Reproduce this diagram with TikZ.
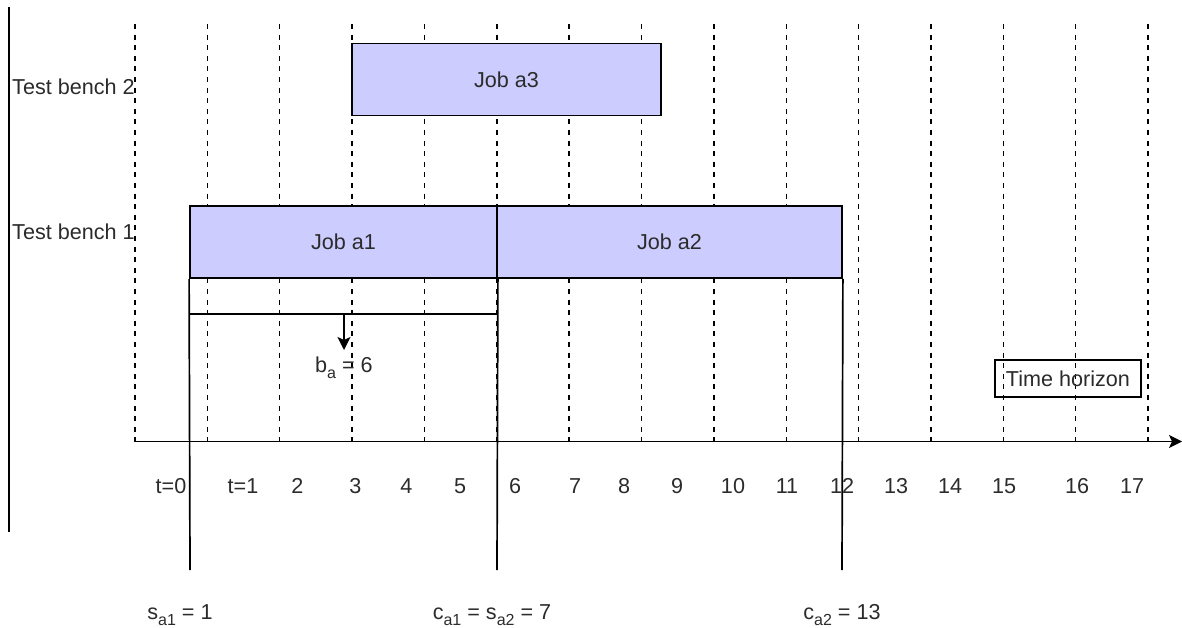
\documentclass[tikz,border=0pt]{standalone}
\usepackage{fontspec}
\setmainfont{Liberation Sans}
\usetikzlibrary{arrows.meta}
\definecolor{jobfill}{HTML}{CCCCFF}
\definecolor{ink}{HTML}{2B2B2B}
% lowered, smaller index text (s_a1, c_a2, b_a ...)
\newcommand\lowsub[1]{\raisebox{-0.3em}{\fontsize{16}{16}\selectfont #1}}

\begin{document}
\begin{tikzpicture}[x=1pt,y=-1pt,
  every node/.style={font=\fontsize{21.6}{26}\selectfont, text=ink, inner sep=0pt},
  job/.style={draw=black, fill=jobfill, line width=1.8pt, minimum height=72pt},
  gridline/.style={draw=black, line width=1.5pt, dash pattern=on 5pt off 5.6pt},
  plainline/.style={draw=black, line width=1.7pt},
  lbl/.style={anchor=base},
  tip/.style={-{Stealth[length=13pt,width=13pt,inset=3pt]}}
]
\useasboundingbox (0,0) rectangle (1182,628);

% time grid
\foreach \k in {0,...,14}
  \draw[gridline] (135+72.36*\k,24) -- (135+72.36*\k,441.5);

% left border of the machine column
\coordinate (lt) at (9,7);
\coordinate (lb) at (9,532);
\draw[plainline] (lt) -- (lb);

% machine labels
\node[anchor=base west] (tb2) at (12,95) {Test bench 2};
\node[anchor=base west] (tb1) at (12,239.5) {Test bench 1};

% jobs
\node[job, minimum width=309pt] (a3) at (506.5,79.5) {Job a3};
\node[job, minimum width=307pt] (a1) at (343.5,242) {Job a1};
\node[job, minimum width=345pt] (a2) at (669.5,242) {Job a2};

% time axis
\coordinate (o) at (135,441.5);
\coordinate (xend) at (1182,441.5);
\draw[plainline, tip] (o) -- (xend);

% start / completion markers
\coordinate (s1) at (190,570);
\coordinate (c1) at (497,570);
\coordinate (c2) at (842,570);
\draw[plainline] (a1.south west) -- (s1);
\draw[plainline] (a1.south east) -- (c1);
\draw[plainline] (a2.south east) -- (c2);

% buffer b_a
\coordinate (bl) at (190,314);
\coordinate (br) at (497,314);
\coordinate (bm) at (344,314);
\coordinate (bt) at (344,350);
\draw[plainline] (bl) -- (br);
\draw[plainline, tip] (bm) -- (bt);
\node[lbl] (ba) at (344,372) {b\lowsub{a} = 6};

% time horizon
\node[draw=black, line width=1.8pt, minimum width=146pt, minimum height=37pt] (th) at (1068,378.5) {Time horizon};

% tick labels
\foreach \x/\t [count=\i] in {171/t=0, 243/t=1, 297.5/2, 355.5/3, 406.5/4, 460/5, 515/6, 575/7, 624/8, 677/9, 733/10, 787/11, 842/12, 896/13, 950/14, 1004/15, 1077/16, 1132/17}
  \node[lbl] (tick\i) at (\x,493) {\t};

% bottom annotations
\node[lbl] (ls1) at (180,619) {s\lowsub{a1} = 1};
\node[lbl] (lc1) at (492,619) {c\lowsub{a1} = s\lowsub{a2} = 7};
\node[lbl] (lc2) at (842,619) {c\lowsub{a2} = 13};
\end{tikzpicture}
\end{document}
